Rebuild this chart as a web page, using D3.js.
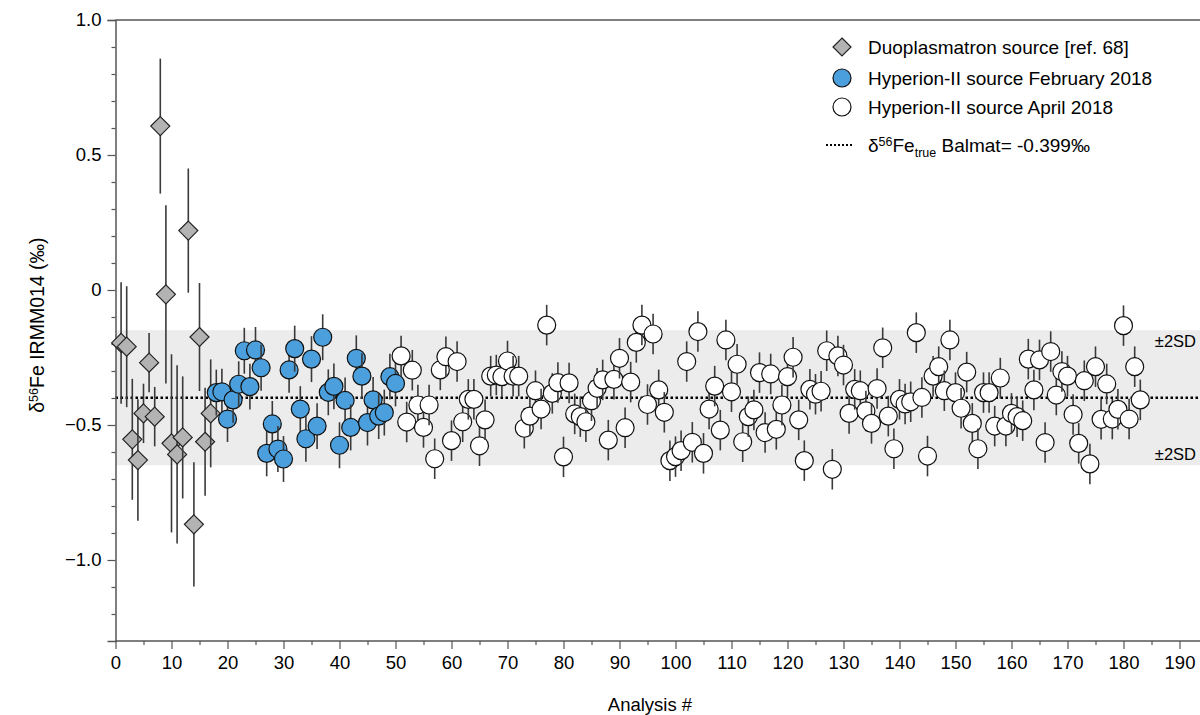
<!DOCTYPE html>
<html><head><meta charset="utf-8">
<script src="https://cdn.jsdelivr.net/npm/d3@7"></script>
<style>body{margin:0;background:#fff} svg{display:block} text{font-family:"Liberation Sans",Arial,sans-serif;fill:#000}</style>
</head><body><svg id="c" width="1200" height="715"></svg>
<script>
// ---- data ----
const duoX = d3.range(1, 18);
const duoY = [-0.196,-0.21,-0.553,-0.63,-0.457,-0.269,-0.469,0.607,-0.016,-0.568,-0.609,-0.546,0.22,-0.868,-0.174,-0.562,-0.457];
const duoErr = [0.225,0.224,0.224,0.225,0.11,0.11,0.11,0.25,0.33,0.33,0.33,0.226,0.23,0.23,0.2,0.2,0.2];

const febX = d3.range(18, 51);
const febY = [-0.380,-0.377,-0.478,-0.407,-0.349,-0.225,-0.358,-0.222,-0.288,-0.605,-0.496,-0.589,-0.626,-0.296,-0.217,-0.441,-0.551,-0.256,-0.504,-0.175,-0.379,-0.357,-0.575,-0.409,-0.509,-0.253,-0.319,-0.491,-0.407,-0.467,-0.454,-0.321,-0.346];
const febErr = 0.085;

const aprX = d3.range(51, 184);
const aprY = [-0.244,-0.489,-0.297,-0.426,-0.509,-0.426,-0.625,-0.296,-0.247,-0.558,
-0.265,-0.488,-0.405,-0.405,-0.577,-0.481,-0.319,-0.315,-0.321,-0.263,
-0.319,-0.319,-0.512,-0.467,-0.373,-0.441,-0.130,-0.383,-0.343,-0.618,
-0.344,-0.459,-0.469,-0.488,-0.410,-0.364,-0.333,-0.556,-0.331,-0.253,
-0.510,-0.341,-0.194,-0.130,-0.424,-0.163,-0.370,-0.453,-0.632,-0.617,
-0.595,-0.265,-0.564,-0.154,-0.605,-0.441,-0.356,-0.519,-0.185,-0.377,
-0.275,-0.562,-0.469,-0.444,-0.306,-0.528,-0.311,-0.516,-0.426,-0.321,
-0.249,-0.481,-0.632,-0.368,-0.386,-0.375,-0.225,-0.664,-0.244,-0.278,
-0.457,-0.368,-0.373,-0.448,-0.494,-0.365,-0.214,-0.467,-0.588,-0.405,
-0.422,-0.414,-0.158,-0.398,-0.615,-0.319,-0.284,-0.373,-0.185,-0.380,
-0.438,-0.304,-0.494,-0.588,-0.380,-0.380,-0.504,-0.326,-0.504,-0.457,
-0.469,-0.484,-0.256,-0.370,-0.259,-0.565,-0.228,-0.389,-0.302,-0.319,
-0.461,-0.568,-0.336,-0.644,-0.284,-0.479,-0.348,-0.478,-0.442,-0.132,
-0.478,-0.284,-0.407];
const aprErr = 0.075;

const trueValue = -0.399;
const band = [-0.149, -0.649];
const xTicks = d3.range(0, 191, 10);
const xMinor = d3.range(5, 196, 10);
const yTicks = [-1.0, -0.5, 0, 0.5, 1.0];
const yMinor = d3.range(-12, 10).map(d => d / 10);
const legendLabels = ["Duoplasmatron source [ref. 68]", "Hyperion-II source February 2018", "Hyperion-II source April 2018"];

// ---- scales ----
const FS = 18.5;
const svg = d3.select("#c");
const x = d3.scaleLinear().domain([0, 195]).range([115.5, 1207.5]);
const y = d3.scaleLinear().domain([-1.3, 1.0]).range([641, 20]);
const axisColor = "#555";

// band
svg.append("rect").attr("x", x(0)).attr("y", y(band[0]))
  .attr("width", 1200 - x(0)).attr("height", y(band[1]) - y(band[0]))
  .attr("fill", "#ececec");

// true value line
svg.append("line").attr("x1", x(0)).attr("x2", 1200)
  .attr("y1", y(trueValue)).attr("y2", y(trueValue))
  .attr("stroke", "#000").attr("stroke-width", 2.5).attr("stroke-dasharray", "2.5,2.5");

// ±2SD labels
svg.append("text").attr("x", 1196).attr("y", y(band[0]) + 17).attr("text-anchor", "end").attr("font-size", 16.5).text("±2SD");
svg.append("text").attr("x", 1196).attr("y", y(band[1]) - 5).attr("text-anchor", "end").attr("font-size", 16.5).text("±2SD");

// axes
const fmtY = d => d === 0 ? "0" : (d < 0 ? "\u2212" : "") + Math.abs(d).toFixed(1);
const gx = svg.append("g").attr("transform", `translate(0,${y(-1.3)})`)
  .call(d3.axisBottom(x).tickValues(xTicks).tickFormat(d3.format("d")).tickSize(8).tickPadding(7));
const gxm = svg.append("g").attr("transform", `translate(0,${y(-1.3)})`)
  .call(d3.axisBottom(x).tickValues(xMinor).tickFormat("").tickSize(4));
const gy = svg.append("g").attr("transform", `translate(${x(0)},0)`)
  .call(d3.axisLeft(y).tickValues(yTicks).tickFormat(fmtY).tickSize(8).tickPadding(6));
const gym = svg.append("g").attr("transform", `translate(${x(0)},0)`)
  .call(d3.axisLeft(y).tickValues(yMinor.filter(v => !yTicks.some(t => Math.abs(t - v) < 1e-9))).tickFormat("").tickSize(4));
[gx, gxm, gy, gym].forEach(g => {
  g.select(".domain").attr("stroke", axisColor).attr("stroke-width", 1.5);
  g.selectAll(".tick line").attr("stroke", axisColor).attr("stroke-width", 1.2);
  g.selectAll(".tick text").attr("font-size", FS).attr("font-family", "Liberation Sans, Arial, sans-serif").attr("fill", "#000");
});
gx.select(".domain").attr("d", `M${x(0)},0H1200`);
gxm.select(".domain").remove();
gym.select(".domain").remove();
// top frame
svg.append("line").attr("x1", x(0)).attr("x2", 1200).attr("y1", y(1.0)).attr("y2", y(1.0))
  .attr("stroke", axisColor).attr("stroke-width", 1.5);

// axis titles
svg.append("text").attr("x", 650).attr("y", 711).attr("text-anchor", "middle")
  .attr("font-size", FS).text("Analysis #");
const yt = svg.append("text").attr("transform", `translate(44,${y(-0.13)}) rotate(-90)`)
  .attr("text-anchor", "middle").attr("font-size", 19.5);
yt.append("tspan").text("δ");
yt.append("tspan").attr("font-size", 12.5).attr("dy", -6).text("56");
yt.append("tspan").attr("dy", 6).text("Fe IRMM014 (‰)");

// points
function drawSeries(xs, ys, err, drawMarker) {
  const g = svg.append("g");
  xs.forEach((xi, k) => {
    const e = Array.isArray(err) ? err[k] : err;
    const pg = g.append("g");
    pg.append("line").attr("x1", x(xi)).attr("x2", x(xi))
      .attr("y1", y(ys[k] + e)).attr("y2", y(ys[k] - e))
      .attr("stroke", "#3a3a3a").attr("stroke-width", 1.6);
    drawMarker(pg, x(xi), y(ys[k]));
  });
}
const diamondPath = (cx, cy, r) => `M${cx},${cy - r}L${cx + r},${cy}L${cx},${cy + r}L${cx - r},${cy}Z`;
drawSeries(duoX, duoY, duoErr, (g, cx, cy) =>
  g.append("path").attr("d", diamondPath(cx, cy, 9.5)).attr("fill", "#b3b3b3").attr("stroke", "#222").attr("stroke-width", 1.2));
drawSeries(febX, febY, febErr, (g, cx, cy) =>
  g.append("circle").attr("cx", cx).attr("cy", cy).attr("r", 9).attr("fill", "#4a9fdc").attr("stroke", "#111").attr("stroke-width", 1.2));
drawSeries(aprX, aprY, aprErr, (g, cx, cy) =>
  g.append("circle").attr("cx", cx).attr("cy", cy).attr("r", 9).attr("fill", "#fff").attr("stroke", "#111").attr("stroke-width", 1.2));

// legend
const lg = svg.append("g");
const lx = 842, tx = 868, rows = [47, 78, 107, 145];
lg.append("path").attr("d", diamondPath(lx, rows[0], 9)).attr("fill", "#b3b3b3").attr("stroke", "#222").attr("stroke-width", 1.2);
lg.append("circle").attr("cx", lx).attr("cy", rows[1]).attr("r", 9).attr("fill", "#4a9fdc").attr("stroke", "#111").attr("stroke-width", 1.2);
lg.append("circle").attr("cx", lx).attr("cy", rows[2]).attr("r", 9).attr("fill", "#fff").attr("stroke", "#111").attr("stroke-width", 1.2);
lg.append("line").attr("x1", 826).attr("x2", 852).attr("y1", rows[3]).attr("y2", rows[3])
  .attr("stroke", "#000").attr("stroke-width", 2).attr("stroke-dasharray", "2,2");
legendLabels.forEach((t, i) => lg.append("text").attr("x", tx).attr("y", rows[i] + 6.5).attr("font-size", 19).text(t));
const lt = lg.append("text").attr("x", tx).attr("y", rows[3] + 6.5).attr("font-size", 19);
lt.append("tspan").text("δ");
lt.append("tspan").attr("font-size", 12.5).attr("dy", -6).text("56");
lt.append("tspan").attr("dy", 6).text("Fe");
lt.append("tspan").attr("font-size", 12.5).attr("dy", 5).text("true");
lt.append("tspan").attr("dy", -5).text(" Balmat= -0.399‰");
</script></body></html>
